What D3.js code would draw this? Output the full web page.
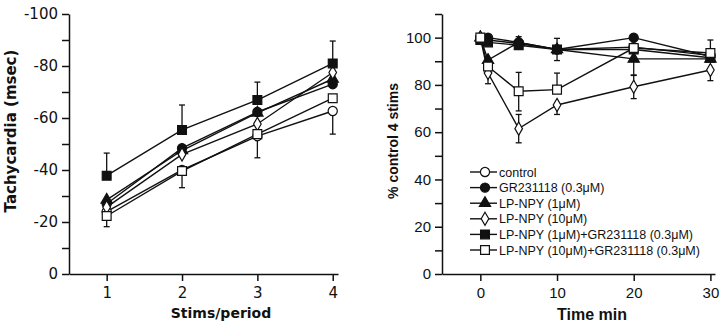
<!DOCTYPE html>
<html>
<head>
<meta charset="utf-8">
<script src="https://cdn.jsdelivr.net/npm/d3@7"></script>
<style>
  body { margin: 0; background: #fff; }
  svg { display: block; }
  text { font-family: "Liberation Sans", Arial, sans-serif; fill: #111; }
</style>
</head>
<body>
<svg id="chart" width="720" height="327"></svg>
<script>
// ---- left panel: tachycardia vs stims/period
const stims = [1, 2, 3, 4];
const tachyControl = [-24, -40, -53, -62.7];
const tachyGR = [-27, -48.4, -62.3, -73];
const tachyLP1 = [-28.5, -47.5, -62, -75];
const tachyLP10 = [-25.7, -46, -57.7, -77.5];
const tachyLP1GR = [-37.8, -55.4, -66.9, -81];
const tachyLP10GR = [-22.3, -39.6, -53.8, -67.6];
// error bars as signed deltas from the mean (null = none drawn)
const tachyControlErr = [null, null, 8.3, 8.9];
const tachyLP1GRErr = [-8.7, -9.6, -6.9, -8.6];
const tachyLP10GRErr = [4.1, 6.4, null, null];

// ---- right panel: % control vs time
const times = [0, 1, 5, 10, 20, 30];
const pctControl = [100, 99, 97.5, 95, 96, 92.5];
const pctGR = [100, 100, 98, 95, 100, 92];
const pctLP1 = [100, 90.5, 98, 95, 91, 91];
const pctLP10 = [100, 85, 61.5, 71.5, 79.2, 86.3];
const pctLP1GR = [99, 98, 96.8, 95, 95, 91.5];
const pctLP10GR = [100, 87.8, 77.3, 78, 95.6, 93.5];
const pctLP10ErrA = [null, -4.5, 6, -4, 5, -4.5];
const pctLP10ErrB = [null, null, -6, null, -5, null];
const pctLP1ErrA = [null, null, null, null, -7, null];
const pctLP1GRErrA = [null, null, 3.6, 4.7, null, null];
const pctLP1GRErrB = [null, null, null, -4.7, null, null];
const pctLP10GRErrA = [null, null, 8, 7, null, 5.5];
const pctLP10GRErrB = [null, null, -8.3, null, null, null];

const legendLabels = [
  "control",
  "GR231118 (0.3\u03bcM)",
  "LP-NPY (1\u03bcM)",
  "LP-NPY (10\u03bcM)",
  "LP-NPY (1\u03bcM)+GR231118 (0.3\u03bcM)",
  "LP-NPY (10\u03bcM)+GR231118 (0.3\u03bcM)"
];
const markers = [
  { type: d3.symbolCircle, fill: "#fff", size: 66 },
  { type: d3.symbolCircle, fill: "#111", size: 66 },
  { type: d3.symbolTriangle, fill: "#111", size: 55 },
  { type: d3.symbolDiamond, fill: "#fff", size: 50 },
  { type: d3.symbolSquare, fill: "#111", size: 78 },
  { type: d3.symbolSquare, fill: "#fff", size: 78 }
];

const svg = d3.select("#chart");

const xL = d3.scaleLinear().domain([0.5, 4.07]).range([69, 338]);
const yL = d3.scaleLinear().domain([0, -100]).range([274, 14]);
const xR = d3.scaleLinear().domain([-5, 30.6]).range([442, 715]);
const yR = d3.scaleLinear().domain([0, 110]).range([274, 14]);

function drawAxes(x, y, xTicks, yTicks, opt) {
  const gx = svg.append("g")
    .attr("transform", `translate(0,${y.range()[0]})`)
    .call(d3.axisBottom(x).tickValues(xTicks).tickSize(7).tickSizeOuter(0)
      .tickFormat(d => String(d)));
  const gy = svg.append("g")
    .attr("transform", `translate(${x.range()[0]},0)`)
    .call(d3.axisLeft(y).tickValues(yTicks).tickSize(7).tickSizeOuter(0)
      .tickFormat(d => (d % 20 === 0 ? String(d) : "")));
  [gx, gy].forEach(g => {
    g.selectAll("path, line").attr("stroke", "#111").attr("stroke-width", 1.5);
    g.selectAll("text")
      .style("font-family", opt.tickFont)
      .style("font-size", "15px")
      .attr("fill", "#111");
  });
  gx.selectAll("text").attr("dy", "0.95em");
  gy.selectAll("text").attr("dx", "-1px");

  svg.append("text")
    .attr("x", opt.xTitlePos[0])
    .attr("y", opt.xTitlePos[1])
    .attr("text-anchor", "middle")
    .style("font-family", opt.xTitleFont)
    .style("font-size", opt.xTitleSize)
    .style("font-weight", "bold")
    .text(opt.xTitle);
  svg.append("text")
    .attr("transform", `translate(${opt.yTitlePos[0]},${opt.yTitlePos[1]}) rotate(-90)`)
    .attr("text-anchor", "middle")
    .style("font-family", opt.yTitleFont)
    .style("font-size", opt.yTitleSize)
    .style("font-weight", "bold")
    .text(opt.yTitle);
}

function drawSeries(x, y, xs, vals) {
  const line = d3.line().x((d, i) => x(xs[i])).y(d => y(d));
  svg.append("path")
    .attr("d", line(vals))
    .attr("fill", "none")
    .attr("stroke", "#111")
    .attr("stroke-width", 1.4);
}

function drawErrors(x, y, xs, vals, errs) {
  errs.forEach((e, i) => {
    if (e === null) return;
    const px = x(xs[i]), y0 = y(vals[i]), y1 = y(vals[i] + e);
    svg.append("line").attr("x1", px).attr("x2", px).attr("y1", y0).attr("y2", y1)
      .attr("stroke", "#111").attr("stroke-width", 1.3);
    svg.append("line").attr("x1", px - 3).attr("x2", px + 3).attr("y1", y1).attr("y2", y1)
      .attr("stroke", "#111").attr("stroke-width", 1.3);
  });
}

function drawMarkers(x, y, xs, vals, m) {
  svg.append("g").selectAll("path")
    .data(vals)
    .join("path")
    .attr("transform", (d, i) => `translate(${x(xs[i])},${y(d)})`)
    .attr("d", d3.symbol().type(m.type).size(m.size))
    .attr("fill", m.fill)
    .attr("stroke", "#111")
    .attr("stroke-width", 1.2);
}

// left panel
drawAxes(xL, yL, stims, d3.range(0, -101, -10), {
  tickFont: "DejaVu Sans",
  xTitle: "Stims/period", xTitleFont: "DejaVu Sans", xTitleSize: "14px", xTitlePos: [221, 318],
  yTitle: "Tachycardia (msec)", yTitleFont: "DejaVu Sans", yTitleSize: "15px", yTitlePos: [16, 131]
});
const leftSeries = [tachyControl, tachyGR, tachyLP1, tachyLP10, tachyLP1GR, tachyLP10GR];
leftSeries.forEach(s => drawSeries(xL, yL, stims, s));
drawErrors(xL, yL, stims, tachyControl, tachyControlErr);
drawErrors(xL, yL, stims, tachyLP1GR, tachyLP1GRErr);
drawErrors(xL, yL, stims, tachyLP10GR, tachyLP10GRErr);
leftSeries.forEach((s, k) => drawMarkers(xL, yL, stims, s, markers[k]));

// right panel
drawAxes(xR, yR, [0, 10, 20, 30], d3.range(0, 111, 10), {
  tickFont: "Liberation Sans",
  xTitle: "Time min", xTitleFont: "Liberation Sans", xTitleSize: "16px", xTitlePos: [592, 320],
  yTitle: "% control 4 stims", yTitleFont: "Liberation Sans", yTitleSize: "14px", yTitlePos: [398, 141]
});
const rightSeries = [pctControl, pctGR, pctLP1, pctLP10, pctLP1GR, pctLP10GR];
rightSeries.forEach(s => drawSeries(xR, yR, times, s));
drawErrors(xR, yR, times, pctLP10, pctLP10ErrA);
drawErrors(xR, yR, times, pctLP10, pctLP10ErrB);
drawErrors(xR, yR, times, pctLP1, pctLP1ErrA);
drawErrors(xR, yR, times, pctLP1GR, pctLP1GRErrA);
drawErrors(xR, yR, times, pctLP1GR, pctLP1GRErrB);
drawErrors(xR, yR, times, pctLP10GR, pctLP10GRErrA);
drawErrors(xR, yR, times, pctLP10GR, pctLP10GRErrB);
rightSeries.forEach((s, k) => drawMarkers(xR, yR, times, s, markers[k]));

// legend
const legend = svg.append("g").attr("transform", "translate(470,172)");
const row = legend.selectAll("g")
  .data(legendLabels)
  .join("g")
  .attr("transform", (d, i) => `translate(0,${i * 15.6})`);
row.append("line").attr("x1", 0).attr("x2", 27).attr("y1", 0).attr("y2", 0)
  .attr("stroke", "#111").attr("stroke-width", 1.4);
row.append("path")
  .attr("transform", "translate(15,0)")
  .attr("d", (d, i) => d3.symbol().type(markers[i].type).size(markers[i].size)())
  .attr("fill", (d, i) => markers[i].fill)
  .attr("stroke", "#111")
  .attr("stroke-width", 1.2);
row.append("text")
  .attr("x", 29)
  .attr("y", 0)
  .attr("dy", "0.36em")
  .style("font-size", "12.5px")
  .text(d => d);
</script>
</body>
</html>
